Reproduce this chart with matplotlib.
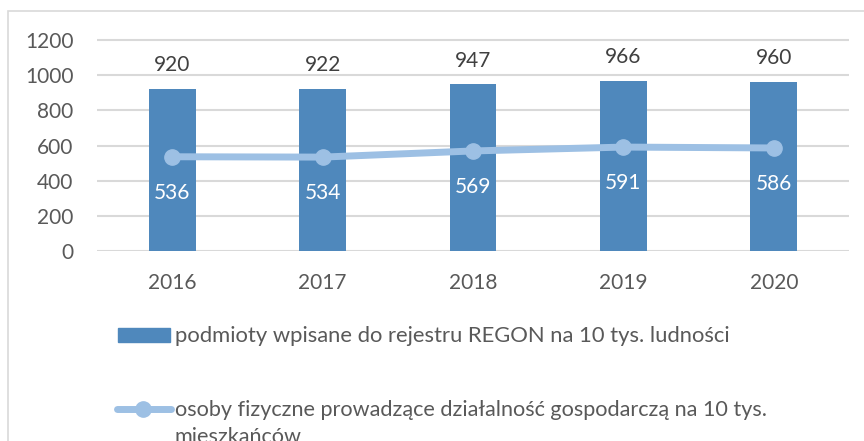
import matplotlib
matplotlib.use("Agg")
import matplotlib.pyplot as plt
from matplotlib.patches import Rectangle
from matplotlib.lines import Line2D
import numpy as np

years = ["2016", "2017", "2018", "2019", "2020"]
regon_per_10k = [920, 922, 947, 966, 960]
persons_per_10k = [536, 534, 569, 591, 586]
bar_label = "podmioty wpisane do rejestru REGON na 10 tys. ludności"
line_label = "osoby fizyczne prowadzące działalność gospodarczą na 10 tys.\nmieszkańców"

BAR_COLOR = "#4F88BC"
LINE_COLOR = "#9DC0E4"
TEXT_COLOR = "#595959"
GRID_COLOR = "#D9D9D9"

plt.rcParams["font.family"] = ["Lato", "DejaVu Sans"]

W, H = 864, 441
fig = plt.figure(figsize=(W / 100, H / 100), dpi=100)

def fx(px):
    return px / W

def fy(py):
    return 1 - py / H

# axes box in pixel terms: 0 at y=251, 1200 at y=40
ymax = 1210
px_per_unit = (251 - 40) / 1200
top_px = 251 - ymax * px_per_unit
ax = fig.add_axes([fx(97), fy(251), fx(849) - fx(97), fy(top_px) - fy(251)])

x = np.arange(len(years))
ax.bar(x, regon_per_10k, width=0.31, color=BAR_COLOR, zorder=2)
ax.plot(x, persons_per_10k, color=LINE_COLOR, lw=5, marker="o", ms=11, zorder=3,
        solid_capstyle="round")

for xi, v in zip(x, regon_per_10k):
    ax.annotate(str(v), (xi, v), xytext=(0, 10), textcoords="offset points",
                ha="center", va="bottom", fontsize=15, color="#404040")
for xi, v in zip(x, persons_per_10k):
    ax.annotate(str(v), (xi, v), xytext=(0, -26), textcoords="offset points",
                ha="center", va="center", fontsize=15, color="white")

ax.set_xlim(-0.5, len(years) - 0.5)
ax.set_ylim(0, ymax)
ax.set_yticks(range(0, 1201, 200))
ax.set_xticks(x)
ax.set_xticklabels(years)
ax.yaxis.grid(True, color=GRID_COLOR, lw=1.5, zorder=0)
ax.set_axisbelow(True)
for s in ax.spines.values():
    s.set_visible(False)
ax.tick_params(length=0, labelsize=15, labelcolor=TEXT_COLOR)
ax.tick_params(axis="y", pad=17)
ax.tick_params(axis="x", pad=16)

# chart border (cut off at right and bottom)
fig.add_artist(Rectangle((fx(8), -0.1), 1.2, fy(11) + 0.1, transform=fig.transFigure,
                         fill=False, edgecolor=GRID_COLOR, lw=1.2))

# legend, drawn by hand to match the layout
fig.add_artist(Rectangle((fx(118), fy(342)), fx(170) - fx(118), fy(328) - fy(342),
                         transform=fig.transFigure, color=BAR_COLOR))
fig.text(fx(175), fy(336), bar_label, ha="left", va="center", fontsize=15.8,
         color=TEXT_COLOR)
fig.add_artist(Line2D([fx(117), fx(171)], [fy(409), fy(409)], transform=fig.transFigure,
                      color=LINE_COLOR, lw=5, solid_capstyle="round"))
fig.add_artist(Line2D([fx(143)], [fy(409)], transform=fig.transFigure,
                      color=LINE_COLOR, marker="o", ms=11))
fig.text(fx(175), fy(400), line_label, ha="left", va="top", fontsize=15.6,
         color=TEXT_COLOR, linespacing=1.45)

fig.savefig("out.png", dpi=100)
